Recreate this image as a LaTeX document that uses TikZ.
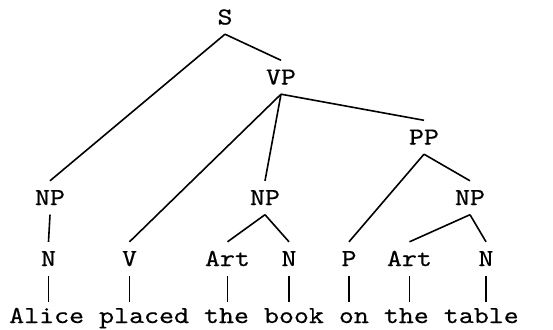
\documentclass[tikz,border=0pt]{standalone}
\usepackage{fontspec}
\setmonofont{lmmono10-regular.otf}[FakeStretch=1.17,FakeBold=0.4]
\begin{document}
\begin{tikzpicture}[x=1pt,y=-1pt,
  lab/.style={font=\ttfamily\fontsize{24.4}{24}\selectfont, inner sep=0pt,
    text height=24pt, text depth=9.5pt, anchor=base},
  word/.style={font=\ttfamily\fontsize{24.4}{24}\selectfont, inner sep=0pt,
    text height=21pt, text depth=5pt, anchor=base west},
  edge/.style={line width=1.6pt}]
\useasboundingbox (0,0) rectangle (553,329);
\node[lab] (S) at (225,24.5) {S};
\node[lab] (VP) at (281,84.5) {VP};
\node[lab] (PP) at (424,144.5) {PP};
\node[lab] (NPa) at (50,205) {NP};
\node[lab] (NPb) at (265,205) {NP};
\node[lab] (NPc) at (470,205) {NP};
\node[lab] (Na) at (48.5,266) {N};
\node[lab] (V) at (129.5,266) {V};
\node[lab] (Arta) at (227.5,266) {Art};
\node[lab] (Nb) at (289,266) {N};
\node[lab] (P) at (349,266) {P};
\node[lab] (Artb) at (409.5,266) {Art};
\node[lab] (Nc) at (486,266) {N};
\node[word] (sent) at (9,323) {Alice placed the book on the table};
\draw[edge] (S.south) -- (NPa.north);
\draw[edge] (S.south) -- (VP.north);
\draw[edge] (VP.south) -- (V.north);
\draw[edge] (VP.south) -- (NPb.north);
\draw[edge] (VP.south) -- (PP.north);
\draw[edge] (PP.south) -- (P.north);
\draw[edge] (PP.south) -- (NPc.north);
\draw[edge] (NPa.south) -- (Na.north);
\draw[edge] (NPb.south) -- (Arta.north);
\draw[edge] (NPb.south) -- (Nb.north);
\draw[edge] (NPc.south) -- (Artb.north);
\draw[edge] (NPc.south) -- (Nc.north);
\foreach \n in {Na,V,Arta,Nb,P,Artb,Nc}
  \draw[edge] (\n.south) -- (\n.south |- sent.north);
\end{tikzpicture}
\end{document}
